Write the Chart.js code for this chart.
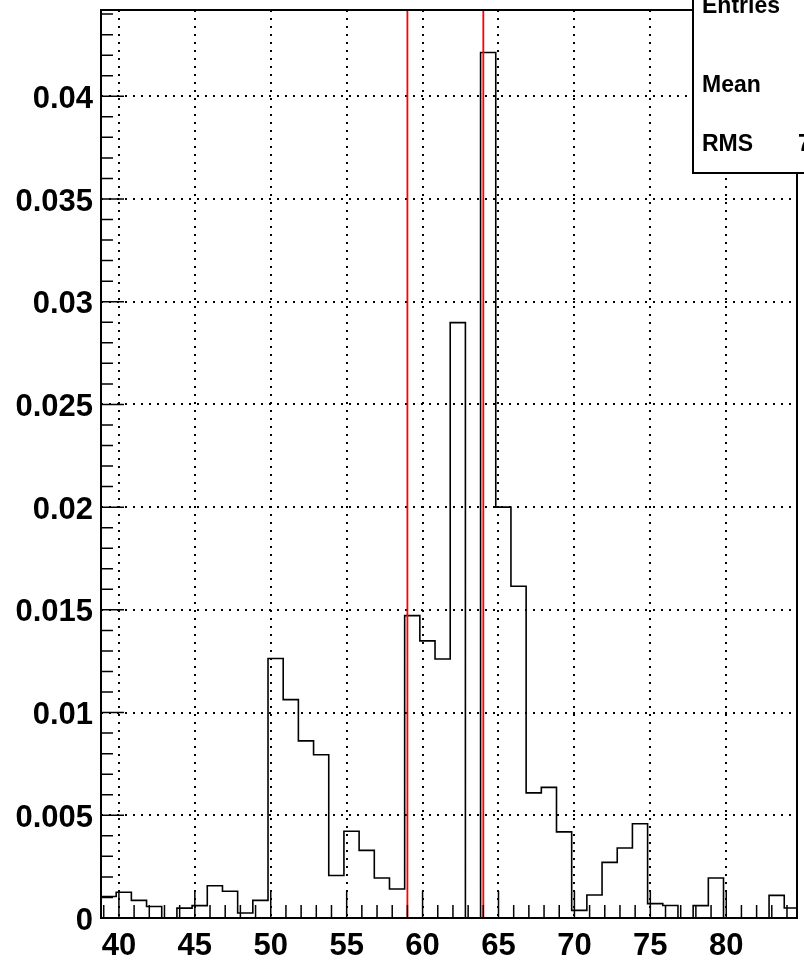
<!DOCTYPE html>
<html lang="en">
<head>
    <meta charset="UTF-8">
    <title>Histogram</title>
    <script src="https://cdn.jsdelivr.net/npm/chart.js"></script>
    <style>
        body {
            margin: 0;
            background: #fff;
        }
        #wrap {
            width: 804px;
            height: 966px;
        }
    </style>
</head>
<body>
    <div id="wrap"><canvas id="histo" width="804" height="966"></canvas></div>

    <script>
        // histogram: 46 bins of width 1, first low edge at 38.82
        const binStart = 38.82;
        const binWidth = 1;
        const binContents = [
            0.00105, 0.00125, 0.00086, 0.00056, 0, 0.00048, 0.0006, 0.00157, 0.0013, 0.00024,
            0.00086, 0.01263, 0.01063, 0.00862, 0.00795, 0.00207, 0.00422, 0.00329, 0.00195, 0.00141,
            0.01472, 0.01349, 0.01261, 0.02898, 0, 0.04213, 0.02, 0.01615, 0.00609, 0.00636,
            0.00419, 0.00037, 0.00112, 0.00271, 0.00341, 0.00459, 0.0007, 0.00061, 0, 0.0006,
            0.00195, 0, 0, 0, 0.0011, 0.00049
        ];
        const xRange = [38.82, 84.66];
        const yRange = [0, 0.0442];
        const xTicks = [40, 45, 50, 55, 60, 65, 70, 75, 80];
        const xTickLabels = ['40', '45', '50', '55', '60', '65', '70', '75', '80'];
        const yTicks = [0, 0.005, 0.01, 0.015, 0.02, 0.025, 0.03, 0.035, 0.04];
        const yTickLabels = ['0', '0.005', '0.01', '0.015', '0.02', '0.025', '0.03', '0.035', '0.04'];
        const markerLines = [59, 64];
        const statsLabels = ['Entries', 'Mean', 'RMS'];
        const statsValues = ['', '', '7'];

        // one point per low edge, plus the last high edge
        const histPoints = binContents.map((v, i) => ({ x: binStart + i * binWidth, y: v }));
        histPoints.push({ x: binStart + binContents.length * binWidth, y: binContents[binContents.length - 1] });

        const rootFrame = {
            id: 'rootFrame',
            afterDatasetsDraw(chart) {
                const { ctx, chartArea: a, scales: { x, y } } = chart;
                ctx.save();
                ctx.strokeStyle = '#000';

                // minor / major ticks drawn inward
                ctx.lineWidth = 1.5;
                ctx.beginPath();
                for (let v = 39; v <= 84; v++) {
                    const px = x.getPixelForValue(v);
                    const len = v % 5 === 0 ? 27 : 13;
                    ctx.moveTo(px, a.bottom);
                    ctx.lineTo(px, a.bottom - len);
                }
                for (let k = 0; k <= 44; k++) {
                    const py = y.getPixelForValue(k / 1000);
                    const len = k % 5 === 0 ? 23 : 12;
                    ctx.moveTo(a.left, py);
                    ctx.lineTo(a.left + len, py);
                }
                ctx.stroke();

                ctx.lineWidth = 2;
                ctx.strokeRect(a.left, a.top, a.right - a.left, a.bottom - a.top);

                // stats box
                ctx.fillStyle = '#fff';
                ctx.fillRect(693, -2, 120, 175);
                ctx.strokeRect(693, -2, 120, 175);
                ctx.fillStyle = '#000';
                ctx.font = 'bold 23px "Liberation Sans", Arial, sans-serif';
                ctx.textBaseline = 'alphabetic';
                const baselines = [13, 92, 151];
                statsLabels.forEach((t, i) => {
                    ctx.fillText(t, 702, baselines[i]);
                    if (statsValues[i]) ctx.fillText(statsValues[i], 798, baselines[i]);
                });
                ctx.restore();
            }
        };

        const tickFont = { family: '"Liberation Sans", Arial, sans-serif', size: 31, weight: 'bold' };

        const chart = new Chart(document.getElementById('histo'), {
            type: 'line',
            data: {
                datasets: [
                    {
                        data: histPoints,
                        borderColor: '#000',
                        borderWidth: 1.6,
                        stepped: 'before',
                        pointRadius: 0,
                        fill: false,
                        order: 2
                    },
                    ...markerLines.map(m => ({
                        data: [{ x: m, y: yRange[0] }, { x: m, y: yRange[1] }],
                        borderColor: '#ff0000',
                        borderWidth: 1.8,
                        pointRadius: 0,
                        fill: false,
                        order: 1
                    }))
                ]
            },
            options: {
                responsive: false,
                animation: false,
                layout: { padding: { top: 10, right: 7, left: 0, bottom: 0 } },
                plugins: {
                    legend: { display: false },
                    tooltip: { enabled: false }
                },
                scales: {
                    x: {
                        type: 'linear',
                        min: xRange[0],
                        max: xRange[1],
                        afterFit: s => {
                            s.height = 48;
                            s.paddingLeft = 0;
                            s.paddingRight = 0;
                        },
                        afterBuildTicks: s => { s.ticks = xTicks.map(v => ({ value: v })); },
                        ticks: {
                            callback: (v, i) => xTickLabels[i],
                            font: tickFont,
                            color: '#000',
                            padding: 10,
                            maxRotation: 0,
                            autoSkip: false
                        },
                        grid: { color: '#000', lineWidth: 2, drawTicks: false },
                        border: { display: false, dash: [2, 6] }
                    },
                    y: {
                        min: yRange[0],
                        max: yRange[1],
                        afterFit: s => {
                            s.width = 101;
                            s.paddingTop = 0;
                            s.paddingBottom = 0;
                        },
                        afterBuildTicks: s => { s.ticks = yTicks.map(v => ({ value: v })); },
                        ticks: {
                            callback: (v, i) => yTickLabels[i],
                            font: tickFont,
                            color: '#000',
                            padding: 8,
                            labelOffset: 3,
                            autoSkip: false
                        },
                        grid: { color: '#000', lineWidth: 2, drawTicks: false },
                        border: { display: false, dash: [2, 6] }
                    }
                }
            },
            plugins: [rootFrame]
        });
    </script>
</body>
</html>
